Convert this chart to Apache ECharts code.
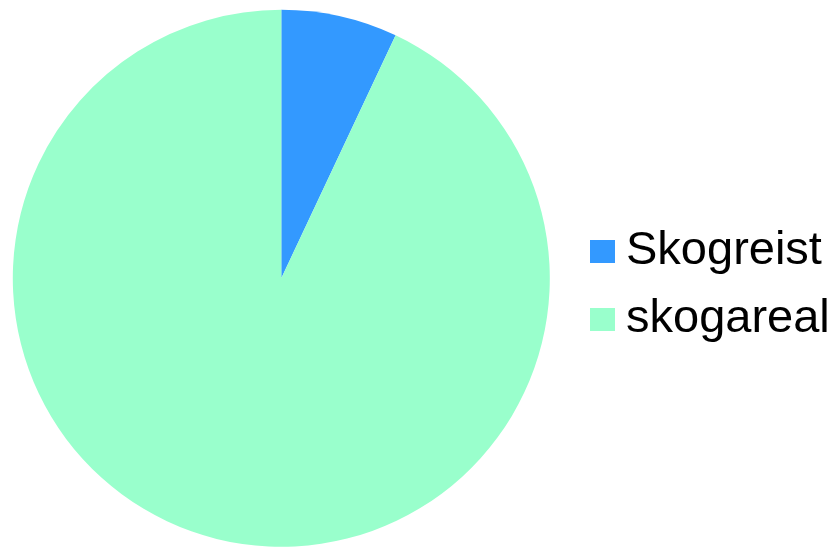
<!DOCTYPE html>
<html><head><meta charset="utf-8">
<script src="https://cdn.jsdelivr.net/npm/echarts@6/dist/echarts.min.js"></script>
<style>html,body{margin:0;padding:0;background:#fff}#c{width:840px;height:547px}</style>
</head><body><div id="c"></div>
<script>
var categories = ["Skogreist", "skogareal"];
var values = [7, 93];
var colors = ["#3399FF", "#99FFCC"];

var chart = echarts.init(document.getElementById('c'), null, {renderer: 'canvas'});
chart.setOption({
  animation: false,
  color: colors,
  legend: {
    orient: 'vertical',
    left: 590,
    top: 228,
    padding: 0,
    itemWidth: 25,
    itemHeight: 23,
    itemGap: 21,
    icon: 'rect',
    data: categories,
    textStyle: {fontFamily: 'Liberation Sans, Arial, sans-serif', fontSize: 47, lineHeight: 47, color: '#000', padding: [0,0,0,6]}
  },
  series: [{
    type: 'pie',
    center: [281.3, 278.3],
    radius: 268.5,
    startAngle: 90,
    clockwise: true,
    label: {show: false},
    labelLine: {show: false},
    emphasis: {disabled: true},
    itemStyle: {borderWidth: 0},
    data: categories.map(function(n, i){ return {name: n, value: values[i]}; })
  }]
});
</script></body></html>
